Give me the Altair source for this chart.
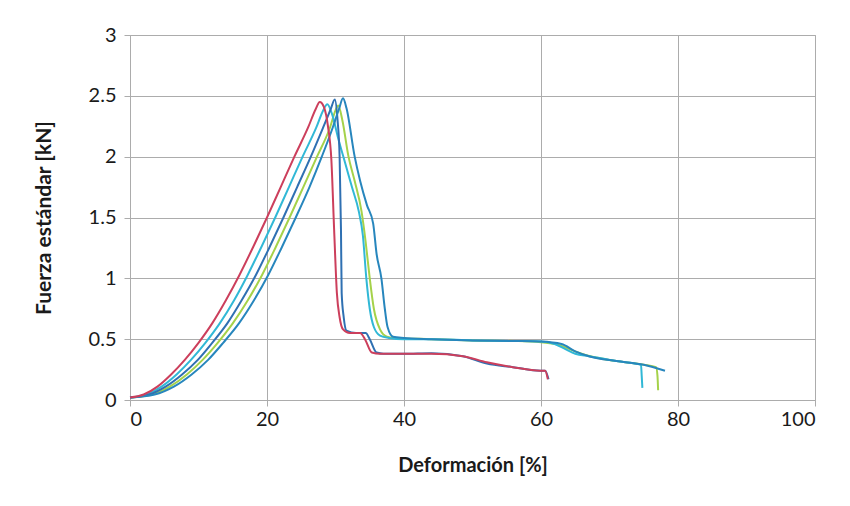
import altair as alt
import pandas as pd

# ---- data ----
s1_x = [0, 2, 4, 6, 8, 10, 12, 14, 16, 18, 20, 22, 24, 26, 27.1, 27.7, 28.3, 28.9, 29.4, 29.8, 30.2, 30.6, 31.1, 32.1, 33.6, 34.3, 35.3, 36.5, 40, 44, 48.6, 52.1, 55.9, 59.9, 60.6, 61.0]
s1_y = [0.02, 0.045, 0.11, 0.21, 0.33, 0.47, 0.63, 0.82, 1.03, 1.26, 1.5, 1.75, 2.0, 2.24, 2.39, 2.45, 2.41, 2.25, 1.97, 1.4, 0.88, 0.68, 0.58, 0.55, 0.55, 0.5, 0.39, 0.38, 0.38, 0.38, 0.36, 0.31, 0.27, 0.24, 0.24, 0.17]

s2_x = [0, 2.4, 4.6, 6.8, 8.9, 11.0, 13.1, 15.2, 17.2, 19.2, 21.2, 23.2, 25.2, 27.2, 28.2, 28.8, 29.5, 30.4, 31.4, 32.4, 33.4, 34.0, 34.5, 35.0, 35.6, 36.5, 37.8, 40, 44, 50, 56, 60, 62, 63.5, 65, 67, 71, 74.6, 74.7, 74.8]
s2_y = [0.02, 0.045, 0.11, 0.21, 0.33, 0.47, 0.63, 0.82, 1.03, 1.26, 1.5, 1.75, 2.0, 2.24, 2.38, 2.43, 2.35, 2.15, 1.95, 1.75, 1.55, 1.35, 1.0, 0.75, 0.6, 0.53, 0.51, 0.5, 0.5, 0.49, 0.485, 0.48, 0.46, 0.42, 0.38, 0.36, 0.32, 0.29, 0.2, 0.1]

s3_x = [0, 2.8, 5.2, 7.6, 9.9, 12.0, 14.2, 16.3, 18.4, 20.4, 22.4, 24.4, 26.4, 28.2, 29.3, 29.9, 30.3, 30.6, 30.8, 30.9, 31.2, 31.6, 33.0, 34.4, 35.0, 36.0, 37.0, 40, 44, 48.6, 52.1, 55.9, 59.9, 60.6, 61.1]
s3_y = [0.02, 0.045, 0.11, 0.21, 0.33, 0.47, 0.63, 0.82, 1.03, 1.26, 1.5, 1.75, 2.0, 2.24, 2.39, 2.47, 2.3, 2.0, 1.4, 0.88, 0.68, 0.57, 0.55, 0.55, 0.5, 0.39, 0.38, 0.38, 0.385, 0.36, 0.30, 0.27, 0.24, 0.24, 0.17]

s4_x = [0, 3.2, 5.8, 8.3, 10.6, 12.8, 15.0, 17.2, 19.3, 21.3, 23.3, 25.3, 27.3, 29.2, 30.0, 30.4, 31.0, 31.9, 32.8, 33.8, 34.4, 35.0, 35.6, 36.5, 37.5, 38.5, 44, 50, 56, 60, 62.5, 64.5, 66.5, 71, 75, 76.8, 77.0, 77.1]
s4_y = [0.02, 0.045, 0.11, 0.21, 0.33, 0.47, 0.63, 0.82, 1.03, 1.26, 1.5, 1.75, 2.0, 2.24, 2.38, 2.42, 2.3, 2.0, 1.8, 1.55, 1.3, 1.0, 0.75, 0.58, 0.52, 0.51, 0.5, 0.49, 0.485, 0.475, 0.455, 0.41, 0.37, 0.32, 0.29, 0.27, 0.2, 0.08]

s5_x = [0, 3.6, 6.4, 9.0, 11.4, 13.6, 15.9, 18.1, 20.2, 22.2, 24.2, 26.2, 28.0, 29.6, 30.5, 31.1, 31.6, 32.8, 33.6, 34.6, 35.5, 36.0, 36.7, 37.2, 37.6, 38.4, 40, 44, 50, 56, 60, 63, 65, 67, 71, 75, 78.1]
s5_y = [0.02, 0.045, 0.11, 0.21, 0.33, 0.47, 0.63, 0.82, 1.03, 1.26, 1.5, 1.75, 2.0, 2.24, 2.39, 2.48, 2.4, 2.0, 1.8, 1.6, 1.45, 1.2, 1.0, 0.75, 0.6, 0.52, 0.51, 0.5, 0.49, 0.485, 0.48, 0.46, 0.4, 0.36, 0.32, 0.29, 0.24]

series_names = ["Probeta 1", "Probeta 2", "Probeta 3", "Probeta 4", "Probeta 5"]
series_colors = ["#cc3f5c", "#31b8d6", "#2f70b2", "#a5d24a", "#2786bd"]
draw_order = [3, 1, 2, 4, 0]  # later drawn on top
x_ticks = [0, 20, 40, 60, 80, 100]
y_ticks = [0, 0.5, 1, 1.5, 2, 2.5, 3]

all_x = [s1_x, s2_x, s3_x, s4_x, s5_x]
all_y = [s1_y, s2_y, s3_y, s4_y, s5_y]

rows = []
for name, xs, ys in zip(series_names, all_x, all_y):
    for i, (a, b) in enumerate(zip(xs, ys)):
        rows.append({"serie": name, "x": a, "y": b, "i": i})
df = pd.DataFrame(rows)

font = "Lato"
grid_c = "#acacac"

layers = []
for k in draw_order:
    name = series_names[k]
    layers.append(
        alt.Chart(df[df["serie"] == name]).mark_line(
            strokeWidth=2, color=series_colors[k], interpolate="monotone"
        ).encode(
            x=alt.X("x:Q", scale=alt.Scale(domain=[0, 100], nice=False),
                    axis=alt.Axis(values=x_ticks, format="d", title="Deformación [%]")),
            y=alt.Y("y:Q", scale=alt.Scale(domain=[0, 3], nice=False),
                    axis=alt.Axis(values=y_ticks, format="~g", title="Fuerza estándar [kN]")),
            order="i:Q",
        )
    )

chart = alt.layer(*layers).properties(
    width=685, height=365,
    autosize=alt.AutoSizeParams(type="none"),
    padding={"left": 122, "top": 27, "right": 27, "bottom": 98},
    background="white",
).configure_view(
    stroke=grid_c, strokeWidth=1
).configure_axis(
    gridColor=grid_c, gridWidth=1, gridOpacity=1,
    domainColor=grid_c, domainWidth=1,
    tickColor=grid_c, tickSize=6, tickWidth=1,
    labelFont=font, labelFontSize=20, labelColor="#1a1a1a",
    titleFont=font, titleFontWeight="bold", titleColor="#1a1a1a",
).configure_axisX(
    labelPadding=3, titlePadding=26, titleFontSize=20,
).configure_axisY(
    labelPadding=8, titlePadding=34, titleFontSize=21,
)

chart.save("out.html", embed_options={"renderer": "svg", "actions": False})
